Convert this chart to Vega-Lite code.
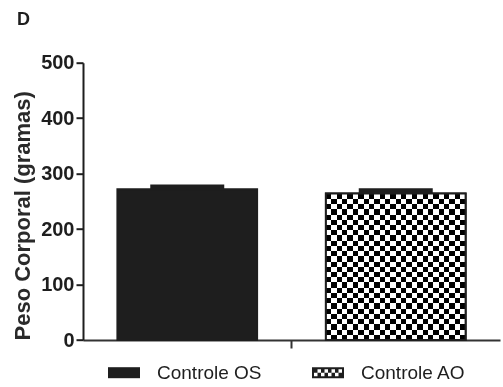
{
  "$schema": "https://vega.github.io/schema/vega-lite/v6.json",
  "width": 417,
  "height": 277.3,
  "autosize": {"type": "none"},
  "padding": {"left": 83, "top": 62.7, "right": 3, "bottom": 47},
  "background": "white",
  "config": {"font": "Liberation Sans", "view": {"stroke": null}},
  "title": {"text": "D", "anchor": "start", "frame": "group", "fontSize": 18, "fontWeight": "bold", "color": "#1e1e1e", "dx": -66, "offset": 24},
  "data": {
    "values": [
      {"grupo": "Controle OS", "peso": 272, "superior": 276},
      {"grupo": "Controle AO", "peso": 264, "superior": 269}
    ]
  },
  "encoding": {
    "x": {
      "field": "grupo", "type": "nominal",
      "scale": {"domain": ["Controle OS", "Controle AO"], "paddingInner": 0.33, "paddingOuter": 0.165},
      "axis": {"title": null, "labels": false, "values": ["Controle AO"], "bandPosition": -0.245, "grid": false,
               "domainColor": "#333333", "domainWidth": 2, "tickColor": "#333333", "tickWidth": 2, "tickSize": 8}
    },
    "y": {
      "field": "peso", "type": "quantitative",
      "scale": {"domain": [0, 500], "nice": false},
      "axis": {"title": "Peso Corporal (gramas)", "values": [0, 100, 200, 300, 400, 500], "grid": false,
               "domainColor": "#1e1e1e", "domainWidth": 2, "tickColor": "#1e1e1e", "tickWidth": 2, "tickSize": 7,
               "labelFontSize": 20, "labelFontWeight": "bold", "labelColor": "#1e1e1e", "labelPadding": 2,
               "titleFontSize": 22, "titleFontWeight": "bold", "titleColor": "#2a2a2a", "titleAnchor": "start", "titlePadding": 6}
    }
  },
  "layer": [
    {
      "mark": {"type": "bar", "stroke": "#1e1e1e", "strokeWidth": 2},
      "encoding": {
        "color": {
          "field": "grupo", "type": "nominal",
          "scale": {"domain": ["Controle OS", "Controle AO"], "range": ["#1e1e1e", "#1e1e1e"]},
          "legend": {
            "title": null, "orient": "none", "legendX": 25, "legendY": 294, "direction": "horizontal", "padding": 0,
            "symbolSize": 1024, "symbolStrokeWidth": 0, "symbolFillColor": "#1e1e1e",
            "labelFontSize": 19, "labelColor": "#1e1e1e", "labelOffset": 17, "columnPadding": 50,
            "encoding": {
              "symbols": {
                "shape": {
                  "condition": {
                    "test": "datum.value === 'Controle AO'",
                    "value": "M-1,-0.34375H1V0.34375H-1Z M-0.65625,-0.21875V0H-0.4375V-0.21875Z M-0.21875,-0.21875V0H0V-0.21875Z M0.21875,-0.21875V0H0.4375V-0.21875Z M0.65625,-0.21875V0H0.875V-0.21875Z M-0.875,0V0.21875H-0.65625V0Z M-0.4375,0V0.21875H-0.21875V0Z M0,0V0.21875H0.21875V0Z M0.4375,0V0.21875H0.65625V0Z"
                  },
                  "value": "M-1,-0.34375H1V0.34375H-1Z"
                }
              }
            }
          }
        }
      }
    },
    {
      "transform": [{"filter": "datum.grupo === 'Controle AO'"}],
      "mark": {
        "type": "bar",
        "fill": {
          "gradient": "linear", "x1": 0, "x2": 1, "y1": 0, "y2": 0,
          "stops": [
            {"offset": 0, "color": "#fff"}, {"offset": 0.03846, "color": "#fff"},
            {"offset": 0.03846, "color": "#000"}, {"offset": 0.07692, "color": "#000"},
            {"offset": 0.07692, "color": "#fff"}, {"offset": 0.11538, "color": "#fff"},
            {"offset": 0.11538, "color": "#000"}, {"offset": 0.15385, "color": "#000"},
            {"offset": 0.15385, "color": "#fff"}, {"offset": 0.19231, "color": "#fff"},
            {"offset": 0.19231, "color": "#000"}, {"offset": 0.23077, "color": "#000"},
            {"offset": 0.23077, "color": "#fff"}, {"offset": 0.26923, "color": "#fff"},
            {"offset": 0.26923, "color": "#000"}, {"offset": 0.30769, "color": "#000"},
            {"offset": 0.30769, "color": "#fff"}, {"offset": 0.34615, "color": "#fff"},
            {"offset": 0.34615, "color": "#000"}, {"offset": 0.38462, "color": "#000"},
            {"offset": 0.38462, "color": "#fff"}, {"offset": 0.42308, "color": "#fff"},
            {"offset": 0.42308, "color": "#000"}, {"offset": 0.46154, "color": "#000"},
            {"offset": 0.46154, "color": "#fff"}, {"offset": 0.5, "color": "#fff"},
            {"offset": 0.5, "color": "#000"}, {"offset": 0.53846, "color": "#000"},
            {"offset": 0.53846, "color": "#fff"}, {"offset": 0.57692, "color": "#fff"},
            {"offset": 0.57692, "color": "#000"}, {"offset": 0.61538, "color": "#000"},
            {"offset": 0.61538, "color": "#fff"}, {"offset": 0.65385, "color": "#fff"},
            {"offset": 0.65385, "color": "#000"}, {"offset": 0.69231, "color": "#000"},
            {"offset": 0.69231, "color": "#fff"}, {"offset": 0.73077, "color": "#fff"},
            {"offset": 0.73077, "color": "#000"}, {"offset": 0.76923, "color": "#000"},
            {"offset": 0.76923, "color": "#fff"}, {"offset": 0.80769, "color": "#fff"},
            {"offset": 0.80769, "color": "#000"}, {"offset": 0.84615, "color": "#000"},
            {"offset": 0.84615, "color": "#fff"}, {"offset": 0.88462, "color": "#fff"},
            {"offset": 0.88462, "color": "#000"}, {"offset": 0.92308, "color": "#000"},
            {"offset": 0.92308, "color": "#fff"}, {"offset": 0.96154, "color": "#fff"},
            {"offset": 0.96154, "color": "#000"}, {"offset": 1, "color": "#000"}
          ]
        }
      }
    },
    {
      "transform": [{"filter": "datum.grupo === 'Controle AO'"}],
      "mark": {
        "type": "bar",
        "blend": "difference",
        "fill": {
          "gradient": "linear", "x1": 0, "x2": 0, "y1": 0, "y2": 1,
          "stops": [
            {"offset": 0, "color": "#fff"}, {"offset": 0.03571, "color": "#fff"},
            {"offset": 0.03571, "color": "#000"}, {"offset": 0.07143, "color": "#000"},
            {"offset": 0.07143, "color": "#fff"}, {"offset": 0.10714, "color": "#fff"},
            {"offset": 0.10714, "color": "#000"}, {"offset": 0.14286, "color": "#000"},
            {"offset": 0.14286, "color": "#fff"}, {"offset": 0.17857, "color": "#fff"},
            {"offset": 0.17857, "color": "#000"}, {"offset": 0.21429, "color": "#000"},
            {"offset": 0.21429, "color": "#fff"}, {"offset": 0.25, "color": "#fff"},
            {"offset": 0.25, "color": "#000"}, {"offset": 0.28571, "color": "#000"},
            {"offset": 0.28571, "color": "#fff"}, {"offset": 0.32143, "color": "#fff"},
            {"offset": 0.32143, "color": "#000"}, {"offset": 0.35714, "color": "#000"},
            {"offset": 0.35714, "color": "#fff"}, {"offset": 0.39286, "color": "#fff"},
            {"offset": 0.39286, "color": "#000"}, {"offset": 0.42857, "color": "#000"},
            {"offset": 0.42857, "color": "#fff"}, {"offset": 0.46429, "color": "#fff"},
            {"offset": 0.46429, "color": "#000"}, {"offset": 0.5, "color": "#000"},
            {"offset": 0.5, "color": "#fff"}, {"offset": 0.53571, "color": "#fff"},
            {"offset": 0.53571, "color": "#000"}, {"offset": 0.57143, "color": "#000"},
            {"offset": 0.57143, "color": "#fff"}, {"offset": 0.60714, "color": "#fff"},
            {"offset": 0.60714, "color": "#000"}, {"offset": 0.64286, "color": "#000"},
            {"offset": 0.64286, "color": "#fff"}, {"offset": 0.67857, "color": "#fff"},
            {"offset": 0.67857, "color": "#000"}, {"offset": 0.71429, "color": "#000"},
            {"offset": 0.71429, "color": "#fff"}, {"offset": 0.75, "color": "#fff"},
            {"offset": 0.75, "color": "#000"}, {"offset": 0.78571, "color": "#000"},
            {"offset": 0.78571, "color": "#fff"}, {"offset": 0.82143, "color": "#fff"},
            {"offset": 0.82143, "color": "#000"}, {"offset": 0.85714, "color": "#000"},
            {"offset": 0.85714, "color": "#fff"}, {"offset": 0.89286, "color": "#fff"},
            {"offset": 0.89286, "color": "#000"}, {"offset": 0.92857, "color": "#000"},
            {"offset": 0.92857, "color": "#fff"}, {"offset": 0.96429, "color": "#fff"},
            {"offset": 0.96429, "color": "#000"}, {"offset": 1, "color": "#000"}
          ]
        }
      }
    },
    {
      "transform": [{"filter": "datum.grupo === 'Controle AO'"}],
      "mark": {"type": "bar", "fill": "transparent", "stroke": "#1e1e1e", "strokeWidth": 2}
    },
    {
      "mark": {"type": "rule", "color": "#1e1e1e", "strokeWidth": 2},
      "encoding": {"y2": {"field": "superior"}}
    },
    {
      "mark": {"type": "tick", "color": "#1e1e1e", "size": 74, "thickness": 5, "opacity": 1},
      "encoding": {"y": {"field": "superior", "type": "quantitative"}}
    }
  ]
}
